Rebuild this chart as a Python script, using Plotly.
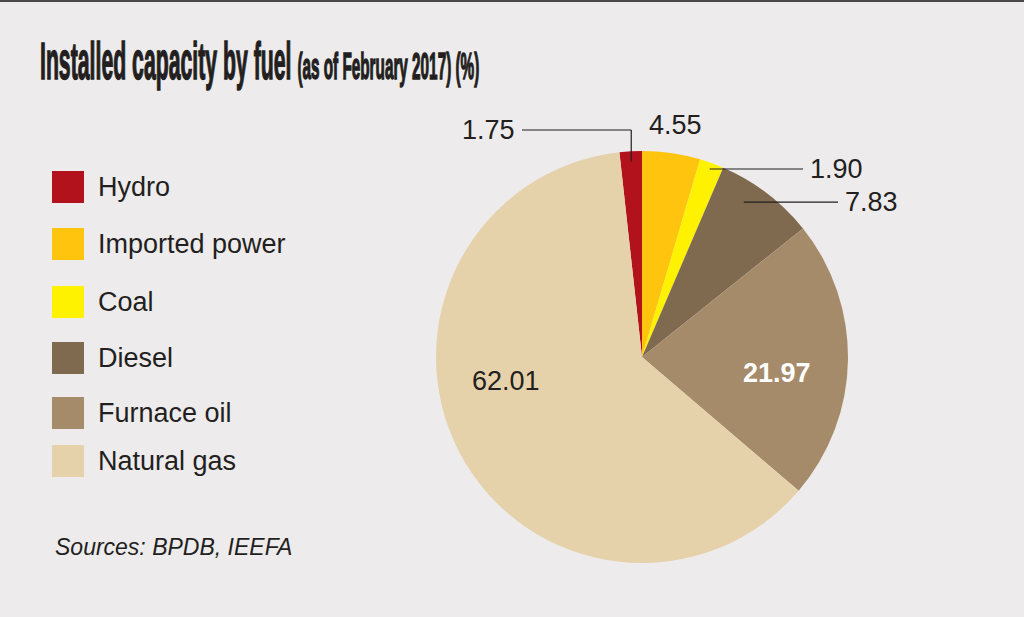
import math
import plotly.graph_objects as go

# data (per cent of installed capacity)
fuels = ["Hydro", "Imported power", "Coal", "Diesel", "Furnace oil", "Natural gas"]
shares = [1.75, 4.55, 1.90, 7.83, 21.97, 62.01]
colours = ["#B2121C", "#FFC40E", "#FFF200", "#806A4F", "#A68B6A", "#E6D2AA"]

title_main = "Installed capacity by fuel"
title_sub = "(as of February 2017) (%)"
source_note = "Sources: BPDB, IEEFA"

# page geometry (pixels)
W, H = 1024, 617
cx, cy, R = 642, 357, 206
BG = "#EDEBEC"
INK = "#231F20"
SANS = "Liberation Sans, Arial, sans-serif"

# how each value label sits on the pie
label_style = [
    dict(kind="elbow", f=0.95, shift=0, rise_to=130, end_x=522),
    dict(kind="plain", f=1.14, shift=0),
    dict(kind="line", f=0.97, shift=0, end_x=803),
    dict(kind="line", f=0.90, shift=-4, end_x=838),
    dict(kind="plain", f=0.66, shift=6, bold=True, color="white"),
    dict(kind="plain", f=0.67, shift=18),
]
legend_rows = [187, 244, 302, 358, 413, 461]


def to_paper(px, py):
    return px / W, 1 - py / H


def on_pie(theta, f):
    a = math.radians(theta)
    return cx + f * R * math.sin(a), cy - f * R * math.cos(a)


total = sum(shares)
rotation = -shares[0] / total * 360

fig = go.Figure(go.Pie(
    labels=fuels,
    values=shares,
    marker=dict(colors=colours, line=dict(width=0)),
    sort=False,
    direction="clockwise",
    rotation=rotation,
    textinfo="none",
    hoverinfo="label+value",
    showlegend=False,
    domain=dict(x=[(cx - R) / W, (cx + R) / W],
                y=[(H - cy - R) / H, (H - cy + R) / H]),
))

annotations = []
shapes = []

# value labels
start = rotation
for v, st in zip(shares, label_style):
    span = v / total * 360
    mid = start + span / 2 + st["shift"]
    start += span
    txt = f"{v:.2f}"
    if st.get("bold"):
        txt = "<b>" + txt + "</b>"
    font = dict(family=SANS, size=27, color=st.get("color", INK))
    px, py = on_pie(mid, st["f"])
    if st["kind"] == "plain":
        x, y = to_paper(px, py)
        annotations.append(dict(x=x, y=y, text=txt, showarrow=False,
                                xanchor="center", yanchor="middle", font=font))
        continue
    pts = [(px, py)]
    if st["kind"] == "elbow":
        pts.append((px, st["rise_to"]))
    pts.append((st["end_x"], pts[-1][1]))
    for (x0, y0), (x1, y1) in zip(pts[:-1], pts[1:]):
        a0, b0 = to_paper(x0, y0)
        a1, b1 = to_paper(x1, y1)
        shapes.append(dict(type="line", xref="paper", yref="paper",
                           x0=a0, y0=b0, x1=a1, y1=b1,
                           line=dict(color=INK, width=1.2)))
    ex, ey = pts[-1]
    goes_left = ex < px
    x, y = to_paper(ex + (-5 if goes_left else 5), ey)
    annotations.append(dict(x=x, y=y, text=txt, showarrow=False,
                            xanchor="right" if goes_left else "left",
                            yanchor="middle", font=font))

# legend drawn as swatches + labels
for name, col, row in zip(fuels, colours, legend_rows):
    x0, y0 = to_paper(52, row - 16)
    x1, y1 = to_paper(84, row + 16)
    shapes.append(dict(type="rect", xref="paper", yref="paper",
                       x0=x0, y0=y0, x1=x1, y1=y1,
                       fillcolor=col, line=dict(width=0)))
    x, y = to_paper(96, row)
    annotations.append(dict(x=x, y=y, text=name, showarrow=False,
                            xanchor="left", yanchor="middle",
                            font=dict(family=SANS, size=27, color=INK)))

x, y = to_paper(53, 547)
annotations.append(dict(x=x, y=y, text="<i>" + source_note + "</i>", showarrow=False,
                        xanchor="left", yanchor="middle",
                        font=dict(family=SANS, size=23, color=INK)))

# thin dark rule along the top edge
shapes.append(dict(type="line", xref="paper", yref="paper", x0=0, x1=1, y0=1, y1=1,
                   line=dict(color="#4A4A4A", width=4)))

fig.update_layout(
    width=W, height=H,
    margin=dict(l=0, r=0, t=0, b=0),
    paper_bgcolor=BG, plot_bgcolor=BG,
    title=dict(
        text="<b>" + title_main + "</b> <b><span style='font-size:18px'>"
             + title_sub + "</span></b>",
        x=40 / W, xanchor="left", xref="paper",
        y=1 - 79 / H, yanchor="bottom", yref="container",
        font=dict(family=SANS, size=25, color=INK),
    ),
    annotations=annotations,
    shapes=shapes,
)

# no page margin; the reference title uses a tall condensed face, so squeeze
# the bold text horizontally, stretch it vertically about its baseline and
# give it a slight outline to get closer to the heavy strokes
post = """
document.body.style.margin = '0';
document.body.style.background = '%s';
var gd = document.getElementById('{plot_id}');
var t = gd.querySelector('.gtitle');
if (t) {
  var ox = parseFloat(t.getAttribute('x')), oy = parseFloat(t.getAttribute('y'));
  t.setAttribute('transform', 'translate(' + ox + ',' + oy + ') scale(0.85,2.07) translate(' + (-ox) + ',' + (-oy) + ')');
  t.style.stroke = '%s';
  t.style.strokeWidth = '0.7px';
}
""" % (BG, INK)

fig.write_html("out.html", post_script=post, config={"displayModeBar": False})
